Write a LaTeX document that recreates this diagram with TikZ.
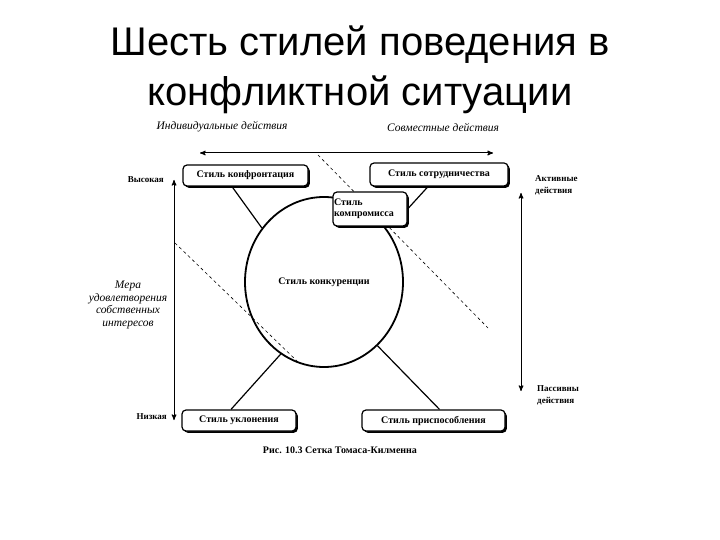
\documentclass[tikz,border=0pt]{standalone}
\usepackage{fontspec}
\setmainfont{Liberation Serif}
\newfontfamily\titlefont{Liberation Sans}
\usetikzlibrary{arrows, positioning, shapes.geometric, shadows}

\begin{document}
\begin{tikzpicture}[x=1pt, y=-1pt, >=stealth',
  stylebox/.style={draw, line width=1.2pt, rounded corners=4pt, fill=white, inner sep=1pt,
    font=\bfseries\fontsize{10}{11}\selectfont,
    drop shadow={shadow xshift=1.8pt, shadow yshift=-1.8pt, fill=black, opacity=1}},
  axislbl/.style={font=\itshape\fontsize{11.5}{12.5}\selectfont, align=center},
  sidelbl/.style={font=\bfseries\fontsize{9}{12}\selectfont, align=left, inner sep=1pt}]
\useasboundingbox (0,0) rectangle (720,540);

% title
\node [align=center, font=\titlefont\fontsize{40}{50}\selectfont] (title) at (360,70) {Шесть стилей поведения в\\конфликтной ситуации};

% dashed lines
\coordinate (dashA1) at (318,155);
\coordinate (dashA2) at (488,328);
\coordinate (dashB1) at (175,243);
\coordinate (dashB2) at (298,362);
\draw[dashed, line width=0.6pt] (dashA1) -- (dashA2);
\draw[dashed, line width=0.6pt] (dashB1) -- (dashB2);

% horizontal axis
\coordinate (indTip) at (200,153);
\coordinate (jointTip) at (493,153);
\draw[<->, line width=1pt] (indTip) -- (jointTip);
\node [axislbl] (ind) at (222,127) {Индивидуальные действия};
\node [axislbl] (joint) at (443,127) {Совместные действия};

% left axis
\coordinate (hiTip) at (174,180);
\coordinate (loTip) at (174,420);
\draw[<->, line width=1pt] (loTip) -- (hiTip);
\node [sidelbl, left=9pt of hiTip] (hi) {Высокая};
\node [sidelbl, left=6pt of loTip, yshift=3pt] (lo) {Низкая};
\node [axislbl] (measure) at (128,305) {Мера\\удовлетворения\\собственных\\интересов};

% right axis
\coordinate (actTip) at (521,193);
\coordinate (pasTip) at (521,391);
\draw[<->, line width=1pt] (pasTip) -- (actTip);
\node [sidelbl, anchor=north west] (act) at (534,174) {Активные\\действия};
\node [sidelbl, anchor=north west] (pas) at (536,384) {Пассивны\\действия};

% circle
\node [ellipse, draw, line width=1.8pt, minimum width=158pt, minimum height=170pt,
  font=\bfseries\fontsize{10}{11}\selectfont] (konk) at (324,282) {Стиль конкуренции};

% boxes
\node [stylebox, minimum width=125pt, minimum height=21pt] (confr) at (245.5,175.5) {Стиль конфронтация};
\node [stylebox, minimum width=138pt, minimum height=23pt] (coop) at (439,174.5) {Стиль сотрудничества};
\node [stylebox, minimum height=34pt, text width=72pt, align=left] (komp) at (370,209) {Стиль\\компромисса};
\node [stylebox, minimum width=114pt, minimum height=21pt] (avoid) at (239,420.5) {Стиль уклонения};
\node [stylebox, minimum width=143pt, minimum height=21pt] (accom) at (433.5,420.5) {Стиль приспособления};

% connectors
\draw[line width=1.2pt] ([xshift=-13.5pt]confr.south) -- (konk.139);
\draw[line width=1.2pt] ([xshift=-11pt]coop.south) -- (komp.0);
\draw[line width=1.2pt] (konk.239) -- ([xshift=-8pt]avoid.north);
\draw[line width=1.2pt] (konk.310) -- ([xshift=6pt]accom.north);

% caption
\node [font=\bfseries\fontsize{10}{11}\selectfont] (caption) at (340,450) {Рис. 10.3 Сетка Томаса-Килменна};
\end{tikzpicture}
\end{document}
